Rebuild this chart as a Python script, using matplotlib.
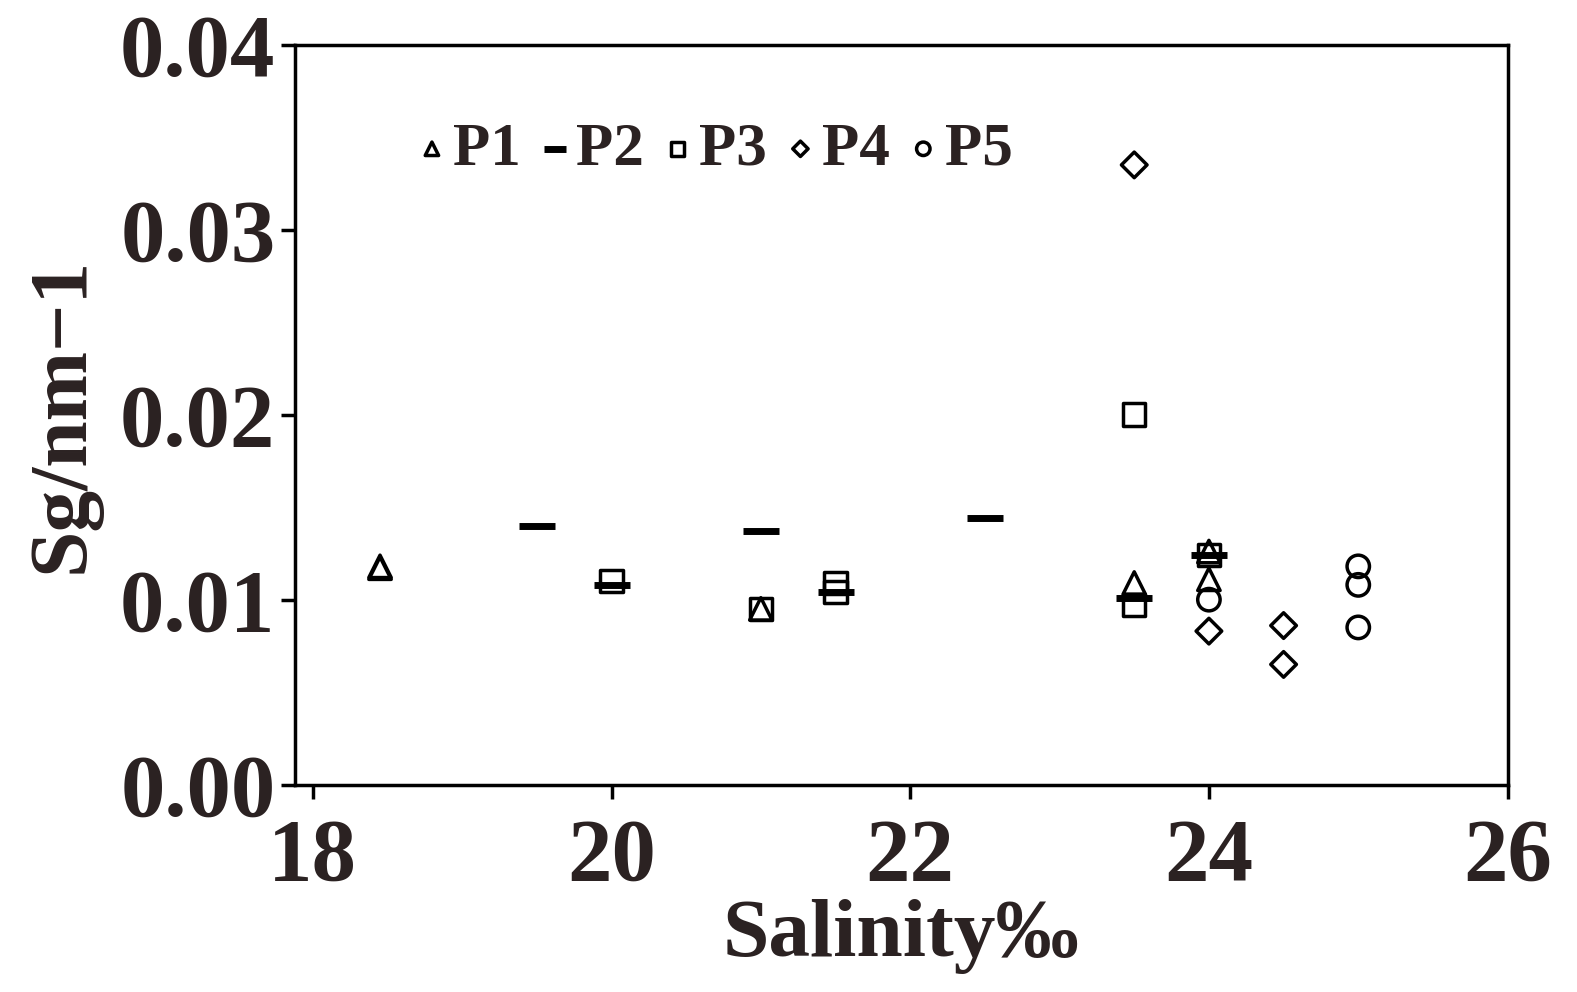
import matplotlib
matplotlib.use("Agg")
import matplotlib.pyplot as plt

p1_x = [18.45, 18.45, 21.0, 23.5, 24.0, 24.0]
p1_y = [0.0117, 0.0118, 0.0095, 0.0109, 0.0111, 0.0126]
p2_x = [19.5, 21.0, 22.5, 24.0, 23.5, 20.0, 21.5]
p2_y = [0.0140, 0.0137, 0.0144, 0.0124, 0.0101, 0.0108, 0.0104]
p3_x = [20.0, 21.0, 21.5, 21.5, 23.5, 23.5, 24.0]
p3_y = [0.0110, 0.0095, 0.0109, 0.0104, 0.0200, 0.0097, 0.0124]
p4_x = [23.5, 24.0, 24.5, 24.5]
p4_y = [0.0335, 0.0083, 0.0086, 0.0065]
p5_x = [24.0, 25.0, 25.0, 25.0]
p5_y = [0.0100, 0.0118, 0.0108, 0.0085]

txt = '#2b2222'
plt.rcParams['font.family'] = ['Liberation Serif', 'DejaVu Serif']
fig = plt.figure(figsize=(15.77, 9.92), dpi=100)
ax = fig.add_axes([0.187, 0.209, 0.769, 0.746])
kw = dict(facecolor='none', edgecolors='black', linewidths=2.5, s=260)
ax.scatter(p1_x, p1_y, marker='^', label='P1', **kw)
ax.scatter(p2_x, p2_y, marker='_', color='black', linewidths=5, s=700, label='P2')
ax.scatter(p3_x, p3_y, marker='s', label='P3', **kw)
ax.scatter(p4_x, p4_y, marker='D', label='P4', facecolor='none', edgecolors='black', linewidths=2.5, s=170)
ax.scatter(p5_x, p5_y, marker='o', label='P5', **kw)

ax.set_xlim(17.88, 26)
ax.set_ylim(0, 0.04)
ax.set_xticks([18, 20, 22, 24, 26])
ax.set_yticks([0, 0.01, 0.02, 0.03, 0.04])
ax.set_yticklabels(['0.00', '0.01', '0.02', '0.03', '0.04'])
ax.tick_params(labelsize=64, width=2.5, length=10, direction='out', labelcolor=txt)
ax.tick_params(axis='x', pad=14)
ax.tick_params(axis='y', pad=4)
for l in ax.get_xticklabels() + ax.get_yticklabels():
    l.set_fontweight('bold')
for s in ax.spines.values():
    s.set_linewidth(2.5)
ax.set_xlabel('Salinity‰', fontsize=60, fontweight='bold', labelpad=0, color=txt)
ax.set_ylabel('Sg/nm−1', fontsize=60, fontweight='bold', labelpad=14, color=txt)
leg = ax.legend(loc='upper left', ncol=5, frameon=False, bbox_to_anchor=(0.05, 0.97),
                prop={'size': 44, 'weight': 'bold'}, handletextpad=0.0,
                columnspacing=0.2, handlelength=0.7, markerscale=0.6)
for t in leg.get_texts():
    t.set_color(txt)
fig.savefig('out.png', dpi=100)
